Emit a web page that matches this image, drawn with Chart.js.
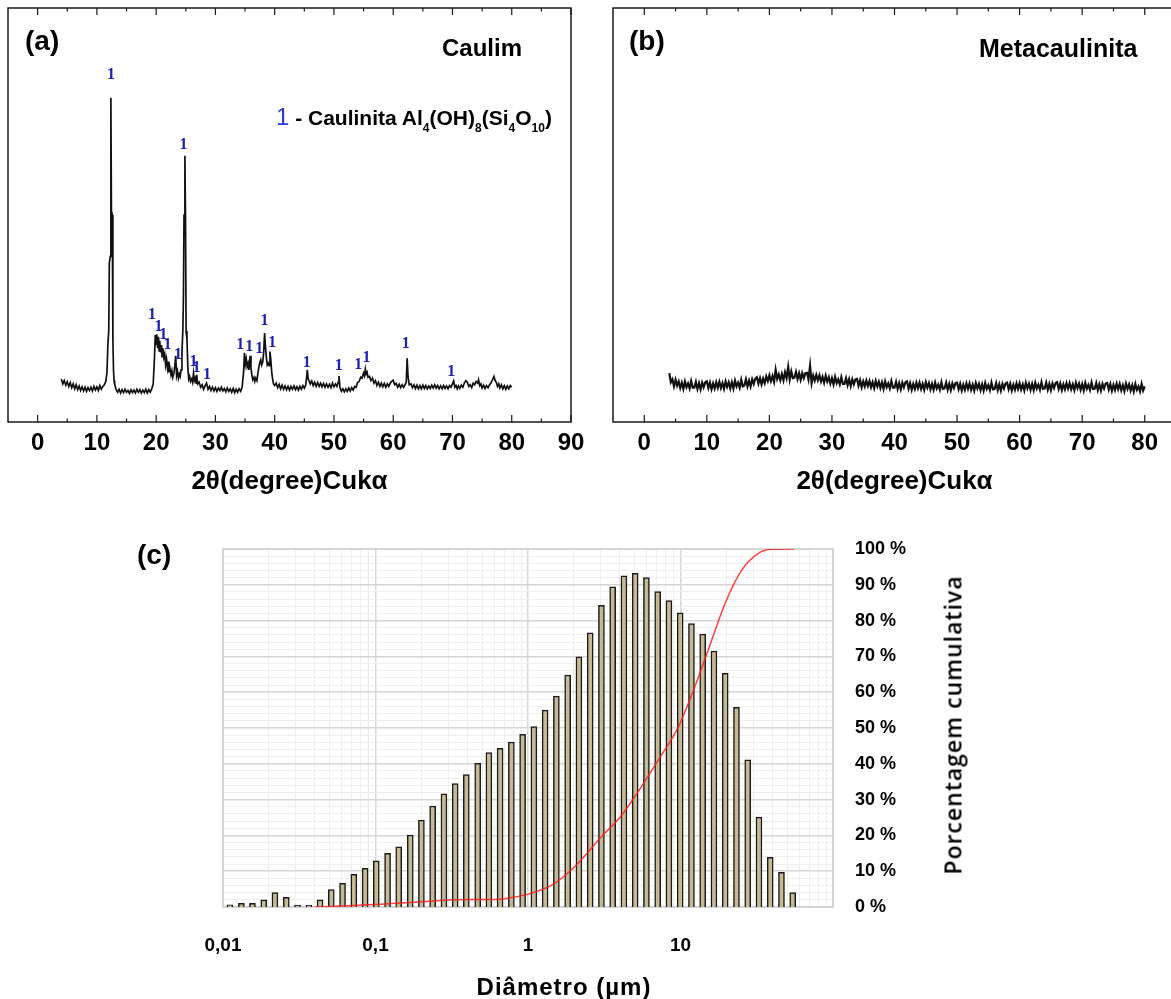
<!DOCTYPE html>
<html>
<head>
<meta charset="utf-8">
<script src="https://cdn.jsdelivr.net/npm/chart.js@4.4.1/dist/chart.umd.min.js"></script>
<style>
  html, body { margin: 0; padding: 0; background: #fff; overflow: hidden; }
  .wrap { position: relative; width: 1171px; height: 999px; overflow: hidden; }
  canvas { position: absolute; }
  .t { position: absolute; font-family: 'Liberation Sans', Arial, sans-serif; font-weight: bold; color: #000; white-space: nowrap; line-height: 1; }
  .c { transform: translate(-50%, -50%); }
  .t sub { font-size: 12px; vertical-align: -7px; line-height: 0; }
</style>
</head>
<body>
<div class="wrap">
  <canvas id="chartA" width="600" height="500" style="left:0;top:0"></canvas>
  <canvas id="chartB" width="600" height="500" style="left:600px;top:0"></canvas>
  <canvas id="chartC" width="1171" height="499" style="left:0;top:500px"></canvas>

  <div class="t" style="left:25px;top:27px;font-size:28px">(a)</div>
  <div class="t" style="left:442px;top:36px;font-size:24px">Caulim</div>
  <div class="t" style="left:276px;top:105px;font-size:21px"><span style="color:#2a3bd1;font-weight:normal;font-size:24px">1</span> - Caulinita Al<sub>4</sub>(OH)<sub>8</sub>(Si<sub>4</sub>O<sub>10</sub>)</div>
  <div class="t" style="left:629px;top:27px;font-size:28px">(b)</div>
  <div class="t" style="left:979px;top:36px;font-size:25px">Metacaulinita</div>
  <div class="t" style="left:137px;top:541px;font-size:28px">(c)</div>
  <div class="t c" style="left:564px;top:987px;font-size:24px;letter-spacing:1px">Diâmetro (µm)</div>
  <div class="t" style="left:953px;top:725px;font-family:'Open Sans',sans-serif;font-weight:600;font-size:23px;letter-spacing:1px;transform:translate(-50%,-50%) rotate(-90deg)">Porcentagem cumulativa</div>
</div>

<script>
const FONT = "'Liberation Sans', Arial, sans-serif";

// (a) Caulim XRD pattern, [2theta, intensity]
const caulimPattern = [
  [4.0,10.4],[4.25,9.2],[4.5,10.0],[4.75,8.9],[5.0,9.7],[5.25,8.6],[5.5,9.5],[5.75,8.3],[6.0,9.2],[6.25,8.0],[6.5,9.0],[6.75,7.8],
  [7.0,8.7],[7.25,7.6],[7.5,8.5],[7.75,7.5],[8.0,8.4],[8.25,7.4],[8.5,8.3],[8.75,7.6],[9.0,8.4],[9.25,7.5],[9.5,8.6],[9.75,7.7],
  [10.0,8.5],[10.25,7.6],[10.5,8.8],[10.75,7.9],[11.0,8.6],[11.25,9.0],[11.5,9.8],[11.7,12.0],[11.85,18.6],[12.0,22.0],[12.1,38.4],
  [12.25,40.0],[12.36,78.3],[12.45,51.0],[12.6,50.0],[12.7,20.0],[12.8,12.5],[12.9,10.0],
  [13.0,9.0],[13.25,7.8],[13.5,7.2],[13.75,7.9],[14.0,7.0],[14.25,7.8],[14.5,7.1],[14.75,7.9],[15.0,7.2],[15.25,7.6],[15.5,6.9],[15.75,7.8],
  [16.0,7.1],[16.25,7.7],[16.5,7.0],[16.75,7.9],[17.0,7.2],[17.25,7.8],[17.5,7.0],[17.75,7.7],[18.0,7.1],[18.25,7.9],[18.5,7.0],[18.75,7.8],
  [19.0,7.2],[19.25,8.0],[19.5,9.2],[19.7,15.0],[19.85,21.0],[20.0,18.8],[20.1,21.2],[20.25,17.8],[20.4,20.6],[20.5,17.2],[20.6,19.6],
  [20.75,16.8],[20.9,18.6],[21.0,15.8],[21.15,17.8],[21.3,15.6],[21.45,16.4],[21.6,13.8],[21.75,15.2],[21.9,13.2],[22.0,14.6],[22.15,12.0],
  [22.3,13.2],[22.5,11.4],[22.65,12.4],[22.8,10.8],[23.0,11.8],[23.15,13.6],[23.3,16.0],[23.45,11.2],[23.6,12.2],[23.75,10.6],[23.9,11.6],
  [24.05,11.0],[24.2,12.6],[24.35,16.7],[24.5,22.0],[24.6,30.0],[24.7,50.0],[24.85,64.3],[24.95,50.0],[25.05,22.0],[25.2,20.0],[25.35,13.0],
  [25.5,10.4],[25.65,11.0],[25.8,9.8],[26.0,10.4],[26.15,9.6],[26.3,11.8],[26.45,10.0],[26.6,10.6],[26.75,9.4],[26.85,11.4],[27.0,9.2],
  [27.25,9.6],[27.5,8.4],[27.75,9.0],[28.0,7.9],[28.25,8.7],[28.5,9.4],[28.75,7.9],[29.0,8.6],[29.25,7.6],[29.5,8.4],[29.75,7.5],
  [30.0,8.3],[30.25,7.4],[30.5,8.2],[30.75,7.6],[31.0,8.4],[31.25,7.5],[31.5,8.1],[31.75,7.3],[32.0,8.2],[32.25,7.4],[32.5,8.0],[32.75,7.2],
  [33.0,8.1],[33.25,7.1],[33.5,7.9],[33.75,7.2],[34.0,8.0],[34.25,7.4],[34.5,8.4],[34.75,12.0],[34.9,16.7],[35.05,14.0],[35.2,15.2],
  [35.35,13.4],[35.5,14.2],[35.65,12.6],[35.85,16.0],[36.0,13.0],[36.15,11.4],[36.3,10.2],[36.5,10.8],[36.65,9.8],[36.8,10.6],[37.0,10.0],
  [37.15,11.6],[37.3,13.0],[37.5,14.4],[37.65,15.0],[37.8,13.8],[38.0,14.6],[38.15,17.0],[38.3,21.5],[38.45,18.0],[38.6,15.6],[38.75,13.8],
  [38.9,14.2],[39.05,13.6],[39.2,17.0],[39.35,15.0],[39.5,12.0],[39.65,10.4],[39.8,9.2],[40.0,8.8],[40.25,9.4],[40.5,8.3],[40.75,9.1],
  [41.0,8.0],[41.25,8.9],[41.5,7.9],[41.75,8.7],[42.0,7.8],[42.25,8.6],[42.5,7.7],[42.75,8.6],[43.0,7.9],[43.25,8.7],[43.5,7.8],[43.75,8.5],
  [44.0,7.7],[44.25,8.6],[44.5,7.9],[44.75,8.8],[45.0,8.2],[45.25,9.0],[45.4,11.0],[45.5,12.6],[45.65,10.4],[45.8,10.0],[46.0,9.2],
  [46.25,9.9],[46.5,8.8],[46.75,9.6],[47.0,8.6],[47.25,9.5],[47.5,8.6],[47.75,9.4],[48.0,8.5],[48.25,9.3],[48.5,8.4],[48.75,9.2],
  [49.0,8.4],[49.25,9.1],[49.5,8.3],[49.75,9.4],[50.0,8.5],[50.25,9.2],[50.5,8.6],[50.7,9.6],[50.85,11.1],[51.0,8.4],[51.25,7.4],
  [51.5,8.0],[51.75,7.3],[52.0,8.0],[52.25,7.4],[52.5,8.2],[52.75,7.5],[53.0,8.3],[53.25,7.7],[53.5,8.6],[53.75,8.4],[54.0,9.6],
  [54.25,9.8],[54.5,10.8],[54.75,10.6],[55.0,11.8],[55.15,11.2],[55.3,12.8],[55.45,11.6],[55.6,12.0],[55.75,10.8],[56.0,11.0],
  [56.25,10.0],[56.5,10.6],[56.75,9.4],[57.0,10.0],[57.25,8.8],[57.5,9.6],[57.75,8.6],[58.0,9.4],[58.25,8.5],[58.5,9.3],[58.75,8.4],
  [59.0,9.2],[59.25,8.6],[59.5,9.4],[59.75,9.8],[60.0,10.1],[60.25,9.0],[60.5,9.3],[60.75,8.4],[61.0,9.1],[61.25,8.3],[61.5,9.0],
  [61.75,8.4],[62.0,9.0],[62.2,9.6],[62.35,15.4],[62.5,11.0],[62.7,9.0],[63.0,9.2],[63.25,8.3],[63.5,9.0],[63.75,8.1],[64.0,8.9],
  [64.25,8.0],[64.5,8.8],[64.75,8.0],[65.0,8.9],[65.25,8.1],[65.5,8.8],[65.75,8.0],[66.0,8.7],[66.25,8.1],[66.5,8.9],[66.75,8.2],
  [67.0,9.0],[67.25,8.2],[67.5,8.8],[67.75,8.0],[68.0,8.7],[68.25,8.0],[68.5,8.8],[68.75,8.1],[69.0,8.7],[69.25,8.0],[69.5,8.8],
  [69.75,8.4],[70.0,9.2],[70.2,9.9],[70.4,8.4],[70.6,8.8],[70.8,8.0],[71.0,8.7],[71.25,8.1],[71.5,8.9],[71.75,8.4],[72.0,9.4],
  [72.25,10.0],[72.5,9.6],[72.75,8.6],[73.0,9.0],[73.25,8.3],[73.5,9.4],[73.75,9.0],[74.0,9.8],[74.25,9.4],[74.4,10.2],[74.6,8.8],
  [74.8,9.2],[75.0,8.2],[75.25,8.9],[75.5,8.1],[75.75,8.8],[76.0,8.3],[76.25,9.0],[76.5,9.4],[76.75,10.2],[77.0,11.0],[77.2,10.0],
  [77.4,9.6],[77.6,8.6],[77.8,9.2],[78.0,8.2],[78.25,9.0],[78.5,8.0],[78.75,8.8],[79.0,7.9],[79.25,8.7],[79.5,8.0],[79.75,8.8],[80.0,8.4]
];

// peak markers "1" (kaolinite) for (a)
const peakX = [12.4, 24.6, 19.3, 20.4, 21.2, 21.9, 23.7, 26.3, 26.8, 28.6, 34.2, 35.7, 37.4, 38.3, 39.6, 45.4, 50.8, 54.1, 55.5, 62.1, 69.8];
const peakY = [83.8, 66.9, 25.8, 23.0, 21.0, 18.6, 16.2, 14.6, 13.0, 11.3, 18.6, 18.1, 17.6, 24.4, 19.1, 14.4, 13.6, 13.9, 15.4, 18.8, 12.1];

// (b) Metacaulinita XRD, 2theta from 4 to 80 step 0.25
const metaStart = 4, metaStep = 0.25;
const metaY = [
  11.8,9.6,10.3,8.6,10.2,8.8,9.8,8.2,   9.5,8.0,9.8,8.4,9.3,8.1,9.9,8.3,
  8.3,9.7,8.0,9.4,7.9,9.5,8.4,9.6,      9.8,8.2,9.5,7.9,9.3,8.1,9.6,8.3,
  9.7,8.2,9.4,8.0,9.8,8.5,9.6,8.1,      9.6,8.1,10.0,8.6,9.5,8.3,10.2,8.6,
  8.8,10.3,8.6,10.0,8.6,10.3,9.2,10.5,  10.8,9.3,10.6,9.1,10.5,9.4,11.0,9.9,
  11.3,9.9,11.1,9.7,12.6,10.4,11.5,10.1, 11.6,10.1,12.0,10.6,13.3,10.3,12.2,10.6,
  10.7,12.1,10.4,11.8,10.2,11.8,10.6,11.8, 11.9,10.3,13.6,9.4,11.2,10.0,11.4,10.1,
  11.3,9.8,10.9,9.5,11.2,9.8,10.8,9.3,  10.6,9.1,10.9,9.4,10.3,9.1,10.8,9.2,
  9.2,10.6,8.9,10.3,8.7,10.3,9.1,10.3,  10.4,8.8,10.1,8.4,9.8,8.6,10.0,8.7,
  9.9,8.4,9.6,8.2,9.9,8.6,9.7,8.2,      9.55,8.0,9.8,8.4,9.3,8.1,9.9,8.3,
  8.3,9.7,8.0,9.4,7.9,9.5,8.4,9.6,      9.8,8.1,9.4,7.8,9.2,8.0,9.5,8.2,
  9.5,8.0,9.2,7.8,9.6,8.3,9.4,7.9,      9.2,7.8,9.5,8.1,9.0,7.8,9.6,8.0,
  8.1,9.5,7.8,9.2,7.7,9.3,8.2,9.4,      9.5,7.9,9.2,7.6,9.0,7.8,9.3,8.0,
  9.3,7.8,9.0,7.6,9.4,8.1,9.2,7.7,      9.1,7.6,9.4,8.0,8.9,7.7,9.5,7.9,
  8.0,9.4,7.7,9.1,7.6,9.2,8.1,9.3,      9.5,7.9,9.2,7.6,9.0,7.8,9.3,8.0,
  9.35,7.85,9.05,7.65,9.45,8.15,9.25,7.75, 9.2,7.7,9.5,8.1,9.0,7.8,9.6,8.0,
  8.1,9.5,7.8,9.2,7.7,9.3,8.2,9.4,      9.6,8.0,9.3,7.7,9.1,7.9,9.4,8.1,
  9.4,7.9,9.1,7.7,9.5,8.2,9.3,7.8,      9.15,7.65,9.45,8.05,8.95,7.75,9.55,7.95,
  8.0,9.4,7.7,9.1,7.6,9.2,8.1,9.3,      9.45,7.85,9.15,7.55,8.95,7.75,9.25,7.95,
  9.2,7.7,8.9,7.5,9.3,8.0,9.1,7.6,      8.9,7.4,9.2,7.8,8.6,7.4,9.2,7.6,
  8.6
];

// (c) particle size distribution
const binDiam = [0.0111,0.0132,0.0156,0.0185,0.0219,0.0260,0.0308,0.0366,0.0433,0.0513,0.0608,0.0721,0.0855,
  0.1012,0.120,0.142,0.169,0.200,0.237,0.281,0.333,0.394,0.468,0.554,0.656,0.778,0.922,
  1.093,1.295,1.535,1.820,2.157,2.557,3.030,3.591,4.256,5.044,5.978,7.085,8.397,9.952,
  11.80,13.98,16.57,19.64,23.28,27.59,32.70,38.75,45.93,54.43];
const binHeight = [0.6,1.0,1.0,2.0,4.0,2.7,0.5,0.5,2.0,4.9,6.6,9.1,10.8,
  12.9,15.0,16.8,20.1,24.3,28.2,31.6,34.5,37.0,40.1,43.1,44.3,46.1,48.2,
  50.4,55.0,58.9,64.8,69.9,76.6,84.3,89.4,92.5,93.2,92.0,88.1,85.6,82.2,
  79.2,76.2,71.5,65.3,55.8,41.1,25.1,13.9,9.7,4.0];
const cumDiam = [0.04,0.1,0.2,0.4,0.62,0.8,1.0,1.43,2.03,3.04,4.0,5.03,7.16,9.7,12.4,15.2,19.6,25.2,32.4,39.6,56];
const cumPct  = [0,0.7,1.5,2.1,2.1,2.7,3.6,6.1,11.3,19.7,25.0,30.9,41.1,50.4,61.5,71.8,84.8,94.1,98.8,99.9,100];
const diamTickVals = [0.01, 0.1, 1, 10];
const diamTickText = ['0,01', '0,1', '1', '10'];

// frame + inward tick marks for XRD panels
const frameTicks = {
  id: 'frameTicks',
  afterDraw(chart) {
    const {ctx, chartArea: a, scales: {x}} = chart;
    ctx.save();
    ctx.strokeStyle = '#1a1a1a';
    ctx.lineWidth = 1.5;
    ctx.strokeRect(a.left, a.top, a.right - a.left, a.bottom - a.top);
    ctx.lineWidth = 1.2;
    x.ticks.forEach(t => {
      if (t.value < 0) return;
      const px = x.getPixelForValue(t.value);
      const len = t.value % 10 === 0 ? 7 : 3.5;
      ctx.beginPath();
      ctx.moveTo(px, a.bottom); ctx.lineTo(px, a.bottom - len);
      ctx.moveTo(px, a.top); ctx.lineTo(px, a.top + len);
      ctx.stroke();
    });
    ctx.restore();
  }
};

const peakLabels = {
  id: 'peakLabels',
  afterDatasetsDraw(chart) {
    const {ctx, scales: {x, y}} = chart;
    ctx.save();
    ctx.fillStyle = '#1e22a8';
    ctx.font = 'bold 16px "Liberation Serif", serif';
    ctx.textAlign = 'center';
    ctx.textBaseline = 'middle';
    peakX.forEach((v, i) => ctx.fillText('1', x.getPixelForValue(v), y.getPixelForValue(peakY[i])));
    ctx.restore();
  }
};

function xrdChart(id, pts, xMax, pad, lw, plugins) {
  return new Chart(document.getElementById(id), {
    type: 'line',
    data: { datasets: [{ data: pts, borderColor: '#111', borderWidth: lw, pointRadius: 0, tension: 0, fill: false }] },
    options: {
      responsive: false, animation: false,
      layout: { padding: pad },
      plugins: { legend: { display: false }, tooltip: { enabled: false } },
      scales: {
        x: {
          type: 'linear', min: -5, max: xMax,
          afterFit: s => { s.height = 78; },
          grid: { display: false, drawTicks: false },
          border: { display: false },
          ticks: {
            stepSize: 5, autoSkip: false, maxRotation: 0, padding: 7, color: '#000',
            font: { family: FONT, size: 24, weight: 'bold' },
            callback: v => (v >= 0 && v % 10 === 0) ? String(v) : ''
          },
          title: { display: true, text: '2θ(degree)Cukα', color: '#000', font: { family: FONT, size: 26, weight: 'bold' }, padding: { top: 0, bottom: 3 } }
        },
        y: { display: false, min: 0, max: 100 }
      }
    },
    plugins: plugins
  });
}

xrdChart('chartA', caulimPattern, 90, { left: 8, top: 8, right: 29, bottom: 0 }, 1.7, [frameTicks, peakLabels]);
xrdChart('chartB', metaY.map((v, i) => [metaStart + i * metaStep, v]), 85, { left: 13, top: 8, right: 24, bottom: 0 }, 2.2, [frameTicks]);

// log grid positions 1..9 per decade
const gridC = [];
for (let e = -2; e <= 1; e++) for (let m = 1; m <= 9; m++) gridC.push(Number((m * Math.pow(10, e)).toPrecision(3)));
gridC.push(100);
const isDecade = v => Math.abs(Math.log10(v) - Math.round(Math.log10(v))) < 1e-6;

const plotBorder = {
  id: 'plotBorder',
  beforeDatasetsDraw(chart) {
    const {ctx, chartArea: a} = chart;
    ctx.save();
    ctx.strokeStyle = '#d2d2d2';
    ctx.lineWidth = 1.5;
    ctx.strokeRect(a.left, a.top, a.right - a.left, a.bottom - a.top);
    ctx.restore();
  }
};

new Chart(document.getElementById('chartC'), {
  type: 'bar',
  data: {
    datasets: [
      { type: 'line', data: cumDiam.map((x, i) => ({ x, y: cumPct[i] })), yAxisID: 'y2',
        borderColor: 'rgba(255,30,30,0.85)', borderWidth: 1.5, pointRadius: 0, cubicInterpolationMode: 'monotone', order: 0 },
      { type: 'bar', data: binDiam.map((x, i) => ({ x, y: binHeight[i] })), yAxisID: 'y',
        backgroundColor: '#c5ba96', borderColor: '#1a1a1a', borderWidth: 1.5, barThickness: 6, order: 1 }
    ]
  },
  options: {
    responsive: false, animation: false,
    layout: { padding: { left: 223, top: 49, right: 0, bottom: 0 } },
    plugins: { legend: { display: false }, tooltip: { enabled: false } },
    scales: {
      x: {
        type: 'logarithmic', min: 0.01, max: 100, offset: false,
        afterBuildTicks: s => { s.ticks = gridC.map(v => ({ value: v })); },
        afterFit: s => { s.height = 92; },
        grid: { offset: false, drawTicks: false, color: c => (c.tick && isDecade(c.tick.value)) ? '#d6d6d6' : '#eeeeee', lineWidth: c => (c.tick && isDecade(c.tick.value)) ? 1.5 : 1 },
        border: { display: false },
        ticks: {
          autoSkip: false, maxRotation: 0, padding: 27, color: '#000',
          font: { family: FONT, size: 19, weight: 'bold' },
          callback: v => { const k = diamTickVals.findIndex(t => Math.abs(t - v) < 1e-9); return k >= 0 ? diamTickText[k] : ''; }
        }
      },
      y: { display: false, min: 0, max: 100 },
      y2: {
        position: 'right', min: 0, max: 100,
        afterFit: s => { s.width = 338; },
        grid: { drawTicks: false, color: c => c.tick.value % 10 === 0 ? '#d6d6d6' : '#efefef', lineWidth: c => c.tick.value % 10 === 0 ? 1.5 : 1 },
        border: { display: false },
        ticks: {
          stepSize: 2, autoSkip: false, padding: 22, color: '#000',
          font: { family: FONT, size: 18, weight: 'bold' },
          callback: v => v % 10 === 0 ? v + ' %' : ''
        }
      }
    }
  },
  plugins: [plotBorder]
});
</script>
</body>
</html>
